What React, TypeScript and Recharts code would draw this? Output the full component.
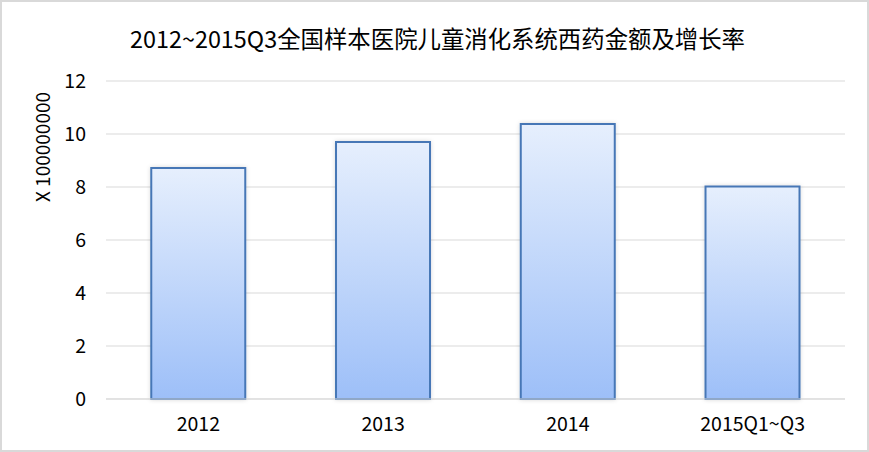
import React from "react";
import { BarChart, Bar, XAxis, YAxis, CartesianGrid } from "recharts";

const years = ["2012", "2013", "2014", "2015Q1~Q3"];
const amounts = [8.72, 9.7, 10.38, 8.02];
const yTicks = [0, 2, 4, 6, 8, 10, 12];

const data = years.map((year, i) => ({ year, amount: amounts[i] }));

const font = "'Noto Sans CJK SC', 'Noto Sans', sans-serif";

const YLabel = () => (
    <text
        x={0}
        y={0}
        transform="translate(50, 147) rotate(-90)"
        textAnchor="middle"
        fontSize={19}
        fontFamily={font}
        fill="#000"
    >
        X 100000000
    </text>
);

const App = () => {
    return (
        <div style={{ position: "absolute", left: 0, top: 0, width: 869, height: 452, background: "#fff" }}>
            <div
                style={{
                    position: "absolute",
                    left: 3,
                    top: 22,
                    width: 869,
                    textAlign: "center",
                    fontFamily: font,
                    fontSize: 23.4,
                    lineHeight: "32px",
                    color: "#000",
                }}
            >
                2012~2015Q3全国样本医院儿童消化系统西药金额及增长率
            </div>
            <BarChart
                width={869}
                height={452}
                data={data}
                margin={{ top: 81, right: 24, left: 0, bottom: 0 }}
                barCategoryGap="24.5%"
            >
                <defs>
                    <linearGradient id="barFill" x1="0" y1="0" x2="0" y2="1">
                        <stop offset="0%" stopColor="#e6effd" />
                        <stop offset="100%" stopColor="#9dbff8" />
                    </linearGradient>
                    <filter id="barShadow" x="-10%" y="-10%" width="120%" height="120%">
                        <feDropShadow dx="0" dy="0" stdDeviation="2" floodColor="#000" floodOpacity="0.15" />
                    </filter>
                </defs>
                <CartesianGrid vertical={false} stroke="#d9d9d9" />
                <XAxis
                    dataKey="year"
                    height={53}
                    tickLine={false}
                    axisLine={{ stroke: "#d9d9d9" }}
                    tickSize={0}
                    tickMargin={18}
                    tick={{ fill: "#000", fontSize: 19.5, fontFamily: font }}
                />
                <YAxis
                    width={106}
                    domain={[0, 12]}
                    ticks={yTicks}
                    tickLine={false}
                    axisLine={false}
                    tickSize={0}
                    tickMargin={20}
                    tick={{ fill: "#000", fontSize: 19.5, fontFamily: font }}
                    label={{ content: () => <YLabel /> }}
                />
                <Bar
                    dataKey="amount"
                    fill="url(#barFill)"
                    stroke="#4677b6"
                    strokeWidth={2}
                    filter="url(#barShadow)"
                    isAnimationActive={false}
                />
            </BarChart>
            <div
                style={{
                    position: "absolute",
                    left: 0,
                    top: 0,
                    width: 869,
                    height: 452,
                    boxSizing: "border-box",
                    border: "2px solid #d9d9d9",
                    pointerEvents: "none",
                }}
            />
        </div>
    );
};

export default App;
